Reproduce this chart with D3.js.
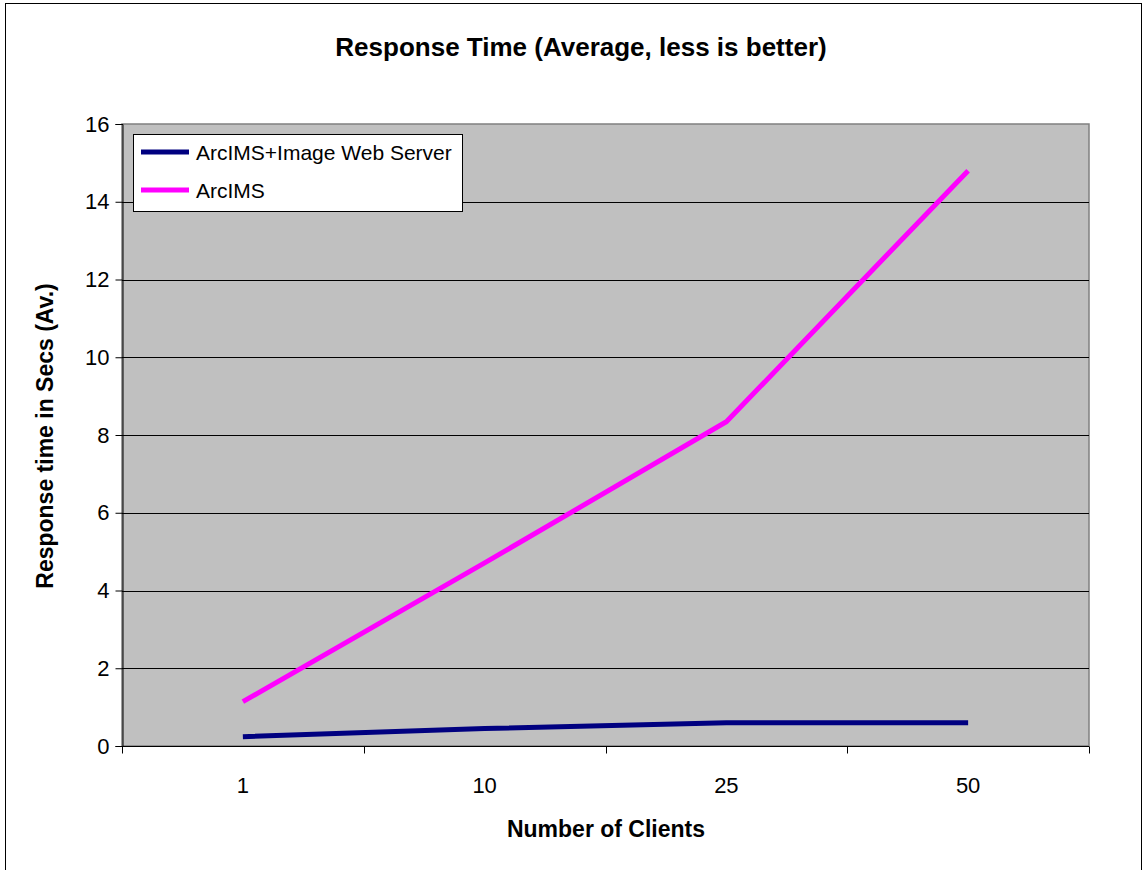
<!DOCTYPE html>
<html>
<head>
<meta charset="utf-8">
<script src="https://cdn.jsdelivr.net/npm/d3@7"></script>
<style>
  body { margin: 0; background: #fff; }
  svg text { font-family: "Liberation Sans", Arial, sans-serif; fill: #000; }
</style>
</head>
<body>
<svg id="chart"></svg>
<script>
// chart values
const clients = ["1", "10", "25", "50"];
const seriesNames = ["ArcIMS+Image Web Server", "ArcIMS"];
const imageWebServer = [0.24, 0.45, 0.60, 0.60];
const arcIMS = [1.14, 4.71, 8.34, 14.8];
const yTicks = [0, 2, 4, 6, 8, 10, 12, 14, 16];

const width = 1147;
const height = 870;
const plot = { left: 122, top: 124, right: 1089, bottom: 746 };

const svg = d3.select("#chart")
  .attr("width", width)
  .attr("height", height);

// outer chart border (bottom edge runs off the picture)
svg.append("rect")
  .attr("x", 5.5).attr("y", 3.5)
  .attr("width", 1136).attr("height", 900)
  .attr("fill", "#fff")
  .attr("stroke", "#000")
  .attr("stroke-width", 1);

const x = d3.scaleBand()
  .domain(clients)
  .range([plot.left, plot.right]);

const y = d3.scaleLinear()
  .domain([0, 16])
  .range([plot.bottom, plot.top]);

// grey plot area
svg.append("rect")
  .attr("x", plot.left).attr("y", plot.top)
  .attr("width", plot.right - plot.left)
  .attr("height", plot.bottom - plot.top)
  .attr("fill", "#c0c0c0")
  .attr("stroke", "#808080")
  .attr("stroke-width", 1.5);

// horizontal gridlines
svg.append("g")
  .selectAll("line")
  .data(yTicks.filter(d => d > 0 && d < 16))
  .join("line")
  .attr("x1", plot.left).attr("x2", plot.right)
  .attr("y1", d => Math.round(y(d)) + 0.5)
  .attr("y2", d => Math.round(y(d)) + 0.5)
  .attr("stroke", "#000")
  .attr("stroke-width", 1);

// y axis
const yAxis = svg.append("g")
  .attr("transform", `translate(${plot.left + 0.5},0)`)
  .call(d3.axisLeft(y).tickValues(yTicks).tickSize(7).tickPadding(6));
yAxis.attr("font-size", null).attr("font-family", null);
yAxis.selectAll("text")
  .style("font-size", "22px");
yAxis.selectAll("line, path").attr("stroke", "#000");

// x axis: ticks sit between categories
const xAxis = svg.append("g")
  .attr("transform", `translate(0,${plot.bottom + 0.5})`);
xAxis.append("line")
  .attr("x1", plot.left).attr("x2", plot.right)
  .attr("stroke", "#000");
const edges = clients.map(c => x(c)).concat([plot.right]);
xAxis.selectAll("line.tick")
  .data(edges)
  .join("line")
  .attr("class", "tick")
  .attr("x1", d => Math.round(d) + 0.5)
  .attr("x2", d => Math.round(d) + 0.5)
  .attr("y1", 0).attr("y2", 7)
  .attr("stroke", "#000");
xAxis.selectAll("text")
  .data(clients)
  .join("text")
  .attr("x", d => x(d) + x.bandwidth() / 2)
  .attr("y", 46)
  .attr("text-anchor", "middle")
  .style("font-size", "22px")
  .text(d => d);

// lines
const line = d3.line()
  .x((d, i) => x(clients[i]) + x.bandwidth() / 2)
  .y(d => y(d));

const series = [
  { name: seriesNames[0], values: imageWebServer, color: "#000080" },
  { name: seriesNames[1], values: arcIMS, color: "#ff00ff" }
];

svg.append("g")
  .selectAll("path")
  .data(series)
  .join("path")
  .attr("d", d => line(d.values))
  .attr("fill", "none")
  .attr("stroke", d => d.color)
  .attr("stroke-width", 5);

// legend
const legend = svg.append("g");
legend.append("rect")
  .attr("x", 133.5).attr("y", 134.5)
  .attr("width", 329).attr("height", 77)
  .attr("fill", "#fff")
  .attr("stroke", "#000");
const items = legend.selectAll("g.item")
  .data(series)
  .join("g")
  .attr("class", "item")
  .attr("transform", (d, i) => `translate(141,${152 + i * 38})`);
items.append("line")
  .attr("x1", 0).attr("x2", 48)
  .attr("stroke", d => d.color)
  .attr("stroke-width", 5);
items.append("text")
  .attr("x", 55).attr("y", 8)
  .style("font-size", "21px")
  .text(d => d.name);

// titles
svg.append("text")
  .attr("x", 581).attr("y", 56)
  .attr("text-anchor", "middle")
  .style("font-size", "26px")
  .style("font-weight", "bold")
  .text("Response Time (Average, less is better)");

svg.append("text")
  .attr("x", 606).attr("y", 837)
  .attr("text-anchor", "middle")
  .style("font-size", "23px")
  .style("font-weight", "bold")
  .text("Number of Clients");

svg.append("text")
  .attr("transform", "translate(53,436) rotate(-90)")
  .attr("text-anchor", "middle")
  .style("font-size", "23px")
  .style("font-weight", "bold")
  .text("Response time in Secs (Av.)");
</script>
</body>
</html>
